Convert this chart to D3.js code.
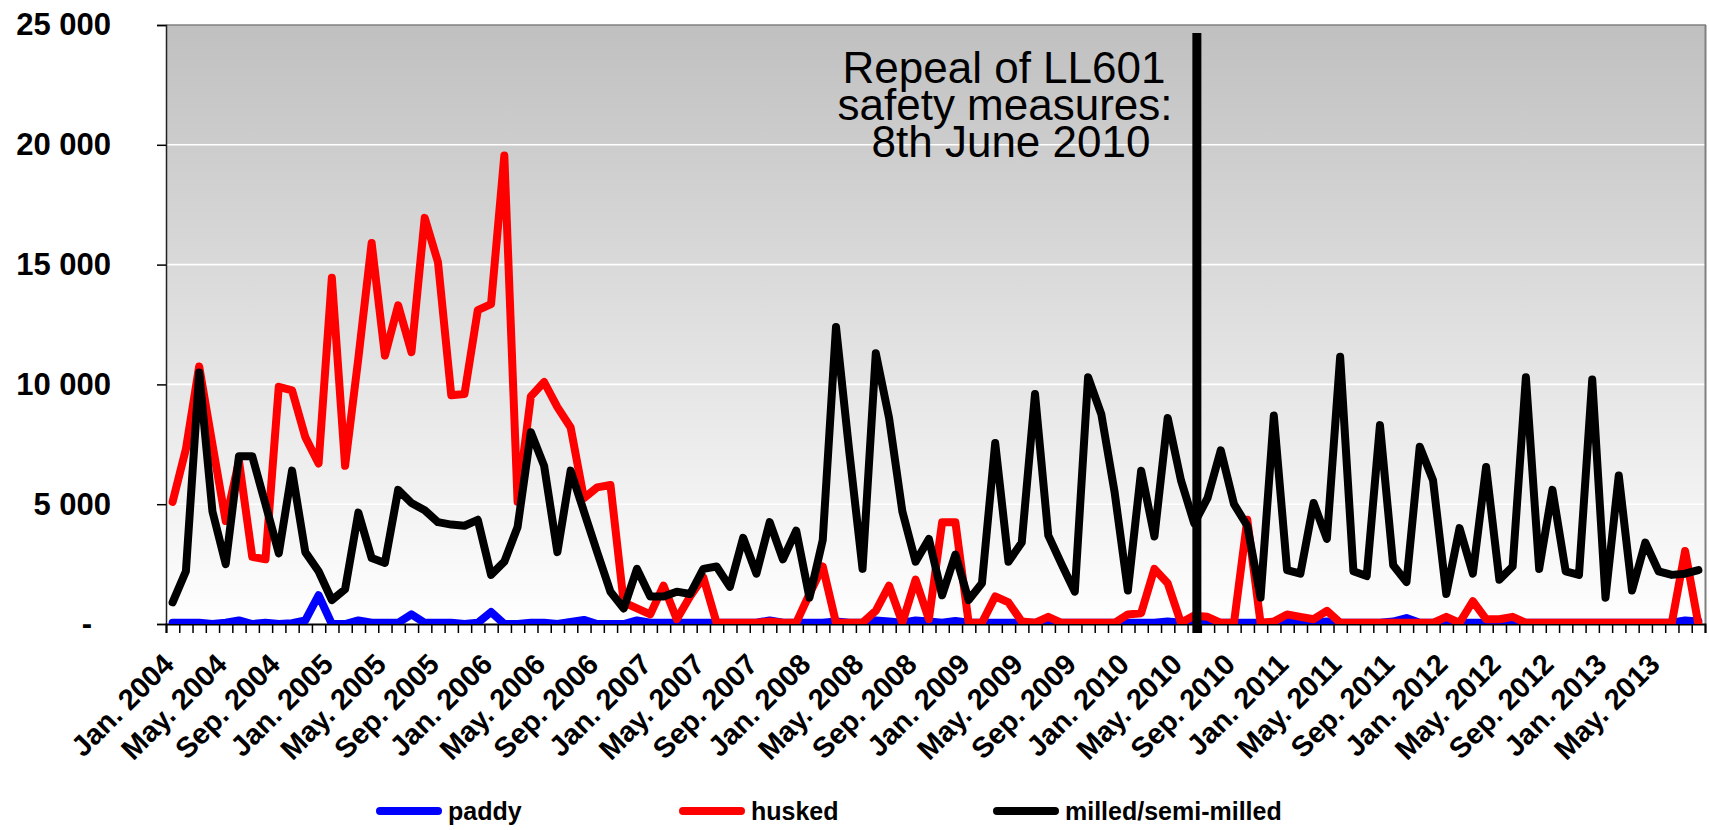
<!DOCTYPE html>
<html><head><meta charset="utf-8">
<script src="https://cdn.jsdelivr.net/npm/d3@7"></script>
<style>
body{margin:0;background:#fff;}
svg{display:block;}
text{font-family:"Liberation Sans",Arial,sans-serif;}
</style>
</head><body>
<svg id="chart" width="1709" height="830"></svg>
<script>
// ---------------- DATA ----------------
const categories = [
"Jan. 2004","Feb. 2004","Mar. 2004","Apr. 2004","May. 2004","Jun. 2004","Jul. 2004","Aug. 2004","Sep. 2004","Oct. 2004","Nov. 2004","Dec. 2004",
"Jan. 2005","Feb. 2005","Mar. 2005","Apr. 2005","May. 2005","Jun. 2005","Jul. 2005","Aug. 2005","Sep. 2005","Oct. 2005","Nov. 2005","Dec. 2005",
"Jan. 2006","Feb. 2006","Mar. 2006","Apr. 2006","May. 2006","Jun. 2006","Jul. 2006","Aug. 2006","Sep. 2006","Oct. 2006","Nov. 2006","Dec. 2006",
"Jan. 2007","Feb. 2007","Mar. 2007","Apr. 2007","May. 2007","Jun. 2007","Jul. 2007","Aug. 2007","Sep. 2007","Oct. 2007","Nov. 2007","Dec. 2007",
"Jan. 2008","Feb. 2008","Mar. 2008","Apr. 2008","May. 2008","Jun. 2008","Jul. 2008","Aug. 2008","Sep. 2008","Oct. 2008","Nov. 2008","Dec. 2008",
"Jan. 2009","Feb. 2009","Mar. 2009","Apr. 2009","May. 2009","Jun. 2009","Jul. 2009","Aug. 2009","Sep. 2009","Oct. 2009","Nov. 2009","Dec. 2009",
"Jan. 2010","Feb. 2010","Mar. 2010","Apr. 2010","May. 2010","Jun. 2010","Jul. 2010","Aug. 2010","Sep. 2010","Oct. 2010","Nov. 2010","Dec. 2010",
"Jan. 2011","Feb. 2011","Mar. 2011","Apr. 2011","May. 2011","Jun. 2011","Jul. 2011","Aug. 2011","Sep. 2011","Oct. 2011","Nov. 2011","Dec. 2011",
"Jan. 2012","Feb. 2012","Mar. 2012","Apr. 2012","May. 2012","Jun. 2012","Jul. 2012","Aug. 2012","Sep. 2012","Oct. 2012","Nov. 2012","Dec. 2012",
"Jan. 2013","Feb. 2013","Mar. 2013","Apr. 2013","May. 2013","Jun. 2013","Jul. 2013","Aug. 2013"
];

const paddy = [
50,50,50,0,50,150,0,50,0,30,150,1200,
0,0,150,50,50,50,400,50,50,50,0,50,
500,0,0,50,50,0,90,170,0,0,0,150,
50,50,50,50,50,50,50,50,50,150,50,50,
50,50,100,50,50,150,100,50,150,100,50,130,
50,50,50,50,50,50,0,50,50,50,50,50,
50,50,50,100,50,50,50,50,50,50,50,50,
150,50,50,100,50,50,50,50,100,250,50,50,
100,50,50,50,50,50,50,50,50,50,50,50,
50,50,50,50,50,50,150,100
];

const husked = [
5100,7300,10750,7500,4300,6800,2800,2700,9900,9750,7800,6700,
14450,6600,11100,15900,11200,13300,11350,16950,15100,9550,9600,13100,
13350,19550,5100,9500,10100,9050,8200,5250,5700,5800,900,650,
400,1600,200,1150,1950,50,50,50,50,100,50,50,
1250,2400,50,50,50,550,1600,50,1850,200,4250,4250,
50,50,1150,900,100,50,300,50,50,50,50,50,
400,450,2300,1700,50,350,300,50,50,4350,50,100,
400,300,200,550,50,50,50,50,50,50,50,50,
300,50,950,200,200,300,50,50,50,50,50,50,
50,50,50,50,50,50,3050,0
];

const milled = [
900,2200,10500,4700,2500,7000,7000,5000,2950,6400,3000,2200,
1000,1450,4650,2750,2550,5600,5050,4750,4250,4150,4100,4350,
2050,2600,4050,8000,6600,3000,6400,4700,3000,1350,650,2300,
1150,1150,1350,1250,2300,2400,1550,3600,2100,4250,2700,3900,
1100,3500,12400,7200,2300,11300,8600,4700,2600,3550,1200,2900,
1000,1700,7550,2600,3400,9600,3700,2500,1350,10300,8750,5500,
1400,6400,3650,8600,6000,4200,5250,7250,5000,4100,1100,8700,
2250,2100,5050,3550,11150,2200,2000,8300,2450,1750,7400,6000,
1250,4000,2100,6550,1850,2400,10300,2300,5600,2200,2050,10200,
1100,6200,1400,3400,2200,2050,2100,2250
];

const seriesNames = ["paddy","husked","milled/semi-milled"];
const seriesColors = ["#0000ff","#ff0000","#000000"];
const yTicks = [0,5000,10000,15000,20000,25000];
const yTickLabels = ["-","5 000","10 000","15 000","20 000","25 000"];
const labelEvery = 4;
const annotationLines = ["Repeal of LL601","safety measures:","8th June 2010"];
const annotationCategory = "Jun. 2010";

// ---------------- LAYOUT ----------------
const M = {left:166, right:1705, top:25, bottom:624};
const svg = d3.select("#chart");
const N = categories.length;

const x = d3.scaleBand().domain(d3.range(N)).range([M.left, M.right]).padding(0);
const xEdge = d3.scaleLinear().domain([0, N]).range([M.left, M.right]);
const cx = i => x(i) + x.bandwidth()/2;
const y = d3.scaleLinear().domain([0, 25000]).range([M.bottom, M.top]);

const defs = svg.append("defs");
const grad = defs.append("linearGradient").attr("id","bg").attr("x1",0).attr("y1",0).attr("x2",0).attr("y2",1);
grad.append("stop").attr("offset","0%").attr("stop-color","#c0c0c0");
grad.append("stop").attr("offset","100%").attr("stop-color","#ffffff");
defs.append("clipPath").attr("id","plotclip").append("rect")
  .attr("x",M.left).attr("y",M.top).attr("width",M.right-M.left).attr("height",M.bottom-M.top);

// plot background
svg.append("rect").attr("x",M.left).attr("y",M.top).attr("width",M.right-M.left).attr("height",M.bottom-M.top)
  .attr("fill","url(#bg)");

// gridlines
svg.append("g").selectAll("line").data(yTicks.filter(d=>d>0 && d<25000)).join("line")
  .attr("x1",M.left).attr("x2",M.right).attr("y1",d=>y(d)).attr("y2",d=>y(d))
  .attr("stroke","#ffffff").attr("stroke-width",1.6);

// frame top/right
svg.append("line").attr("x1",M.left).attr("x2",M.right+1).attr("y1",M.top).attr("y2",M.top)
  .attr("stroke","#808080").attr("stroke-width",1.5);
svg.append("line").attr("x1",M.right+0.5).attr("x2",M.right+0.5).attr("y1",M.top).attr("y2",M.bottom)
  .attr("stroke","#808080").attr("stroke-width",2);

// y axis
const yAxis = svg.append("g").attr("transform",`translate(${M.left},0)`)
  .call(d3.axisLeft(y).tickValues(yTicks).tickSize(9).tickPadding(46)
    .tickFormat((d,i)=>yTickLabels[i]));
yAxis.select(".domain").attr("stroke","#222").attr("stroke-width",1.5);
yAxis.selectAll(".tick line").attr("stroke","#000").attr("stroke-width",1.5);
yAxis.selectAll("text").attr("font-size",31).attr("font-weight","bold").attr("fill","#000")
  .attr("font-family","Liberation Sans, Arial, sans-serif");
yAxis.selectAll(".tick").filter(d=>d===0).select("text").attr("dx",-19);

// x axis ticks (between categories)
const xTicks = svg.append("g").attr("transform",`translate(0,${M.bottom})`)
  .call(d3.axisBottom(xEdge).tickValues(d3.range(N+1)).tickSize(9).tickFormat(""));
xTicks.select(".domain").attr("stroke","#000").attr("stroke-width",2);
xTicks.selectAll(".tick line").attr("stroke","#000").attr("stroke-width",1.5);

// x labels
const xLab = svg.append("g").attr("transform",`translate(0,${M.bottom})`)
  .call(d3.axisBottom(x).tickValues(d3.range(0,N,labelEvery)).tickSize(0).tickFormat(i=>categories[i]));
xLab.select(".domain").remove();
xLab.selectAll("text")
  .attr("font-size",29).attr("font-weight","bold").attr("fill","#000")
  .attr("font-family","Liberation Sans, Arial, sans-serif")
  .attr("text-anchor","end").attr("x",0).attr("y",0).attr("dy",0)
  .attr("transform","translate(3,42) rotate(-45)");

// series lines
const series = [paddy, husked, milled];
const line = d3.line().x((d,i)=>cx(i)).y(d=>y(d)).curve(d3.curveLinear);
const gLines = svg.append("g").attr("clip-path","url(#plotclip)");
series.forEach((s,k)=>{
  gLines.append("path").datum(s).attr("d",line).attr("fill","none")
    .attr("stroke",seriesColors[k]).attr("stroke-width",8)
    .attr("stroke-linejoin","round").attr("stroke-linecap","round");
});

// repeal marker
const ai = categories.indexOf(annotationCategory);
const vx = cx(ai) + 0.2*x.bandwidth();
svg.append("line").attr("x1",vx).attr("x2",vx).attr("y1",33).attr("y2",M.bottom+9)
  .attr("stroke","#000").attr("stroke-width",9);

const ann = svg.append("text").attr("font-size",44).attr("fill","#000").attr("text-anchor","middle")
  .attr("font-family","Liberation Sans, Arial, sans-serif");
const annX = [1004,1005,1011], annY = [83,120,157];
annotationLines.forEach((t,i)=>{
  ann.append("tspan").attr("x",annX[i]).attr("y",annY[i]).text(t);
});

// legend
const legX = [376,679,993];
const leg = svg.append("g");
seriesNames.forEach((n,k)=>{
  leg.append("line").attr("x1",legX[k]+4).attr("x2",legX[k]+62).attr("y1",811).attr("y2",811)
    .attr("stroke",seriesColors[k]).attr("stroke-width",8).attr("stroke-linecap","round");
  leg.append("text").attr("x",legX[k]+72).attr("y",820).attr("font-size",25).attr("font-weight","bold")
    .attr("fill","#000").text(n);
});
</script>
</body></html>
